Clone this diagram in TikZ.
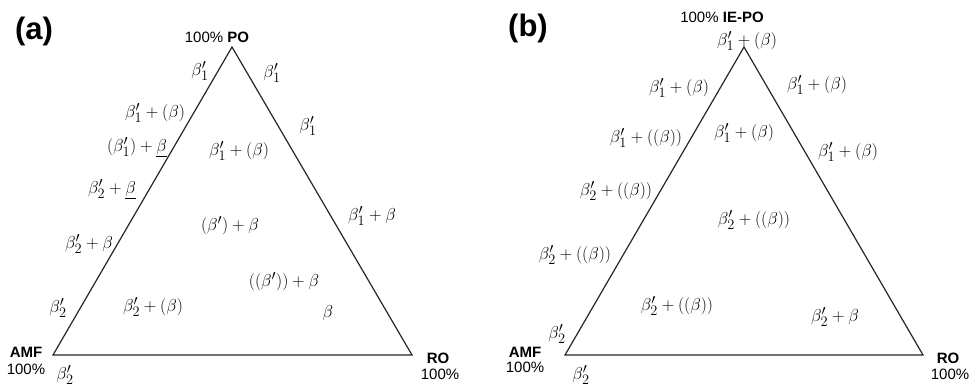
\documentclass[tikz,border=0pt]{standalone}
\usepackage{fontspec}
\setsansfont{Liberation Sans}
\begin{document}
\begin{tikzpicture}[x=1pt,y=-1pt,
  tri/.style={draw=black!85, line width=1.2pt, line join=miter},
  lab/.style={inner sep=0pt, font=\fontsize{19}{22}\selectfont},
  sans/.style={inner sep=0pt, font=\sffamily\fontsize{15}{17}\selectfont},
  sansb/.style={inner sep=0pt, font=\sffamily\bfseries\fontsize{15}{17}\selectfont},
  panel/.style={inner sep=0pt, font=\sffamily\bfseries\fontsize{31}{34}\selectfont}]
\useasboundingbox (0,0) rectangle (970,388);
% ---------- panel (a)
\coordinate (aL) at (53,355);
\coordinate (aR) at (412,355);
\coordinate (aT) at (232,47);
\draw[tri] (aL) -- (aR) -- (aT) -- cycle;
\node[panel] (pa) at (34,31) {(a)};
\node[sans] (aTop) at (217,37) {100\% \textbf{PO}};
\node[sansb] (aAMF) at (26,352) {AMF};
\node[sans] (aAMFp) at (26,369) {100\%};
\node[sansb] (aRO) at (438,358) {RO};
\node[sans] (aROp) at (440,374) {100\%};
% left side
\node[lab] (a1) at (200,71) {$\beta^{\prime}_{1}$};
\node[lab] (a2) at (155,113) {$\beta^{\prime}_{1}+(\beta)$};
\node[lab] (a3) at (137,147) {$(\beta^{\prime}_{1})+\underline{\beta}$};
\node[lab] (a4) at (112,189) {$\beta^{\prime}_{2}+\underline{\beta}$};
\node[lab] (a5) at (89,244) {$\beta^{\prime}_{2}+\beta$};
\node[lab] (a6) at (58,308) {$\beta^{\prime}_{2}$};
\node[lab] (a7) at (65,375) {$\beta^{\prime}_{2}$};
% right side
\node[lab] (a8) at (272,73) {$\beta^{\prime}_{1}$};
\node[lab] (a9) at (308,126) {$\beta^{\prime}_{1}$};
\node[lab] (a10) at (372,216) {$\beta^{\prime}_{1}+\beta$};
% interior
\node[lab] (a11) at (239,151) {$\beta^{\prime}_{1}+(\beta)$};
\node[lab] (a12) at (230,226) {$(\beta^{\prime})+\beta$};
\node[lab] (a13) at (284,282) {$((\beta^{\prime}))+\beta$};
\node[lab] (a14) at (328,313) {$\beta$};
\node[lab] (a15) at (153,307) {$\beta^{\prime}_{2}+(\beta)$};
% ---------- panel (b)
\coordinate (bL) at (565,355);
\coordinate (bR) at (923,355);
\coordinate (bT) at (744,47);
\draw[tri] (bL) -- (bR) -- (bT) -- cycle;
\node[panel] (pb) at (528,28) {(b)};
\node[sans] (bTop) at (722,17) {100\% \textbf{IE-PO}};
\node[lab] (b0) at (747,41) {$\beta^{\prime}_{1}+(\beta)$};
\node[sansb] (bAMF) at (525,352) {AMF};
\node[sans] (bAMFp) at (525,367) {100\%};
\node[sansb] (bRO) at (948,358) {RO};
\node[sans] (bROp) at (950,374) {100\%};
% left side
\node[lab] (b1) at (679,88) {$\beta^{\prime}_{1}+(\beta)$};
\node[lab] (b2) at (646,138) {$\beta^{\prime}_{1}+((\beta))$};
\node[lab] (b3) at (616,191) {$\beta^{\prime}_{2}+((\beta))$};
\node[lab] (b4) at (575,255) {$\beta^{\prime}_{2}+((\beta))$};
\node[lab] (b5) at (557,334) {$\beta^{\prime}_{2}$};
\node[lab] (b6) at (581,375) {$\beta^{\prime}_{2}$};
% right side
\node[lab] (b7) at (817,85) {$\beta^{\prime}_{1}+(\beta)$};
\node[lab] (b8) at (848,152) {$\beta^{\prime}_{1}+(\beta)$};
% interior
\node[lab] (b9) at (744,133) {$\beta^{\prime}_{1}+(\beta)$};
\node[lab] (b10) at (754,220) {$\beta^{\prime}_{2}+((\beta))$};
\node[lab] (b11) at (677,306) {$\beta^{\prime}_{2}+((\beta))$};
\node[lab] (b12) at (835,317) {$\beta^{\prime}_{2}+\beta$};
\end{tikzpicture}
\end{document}
